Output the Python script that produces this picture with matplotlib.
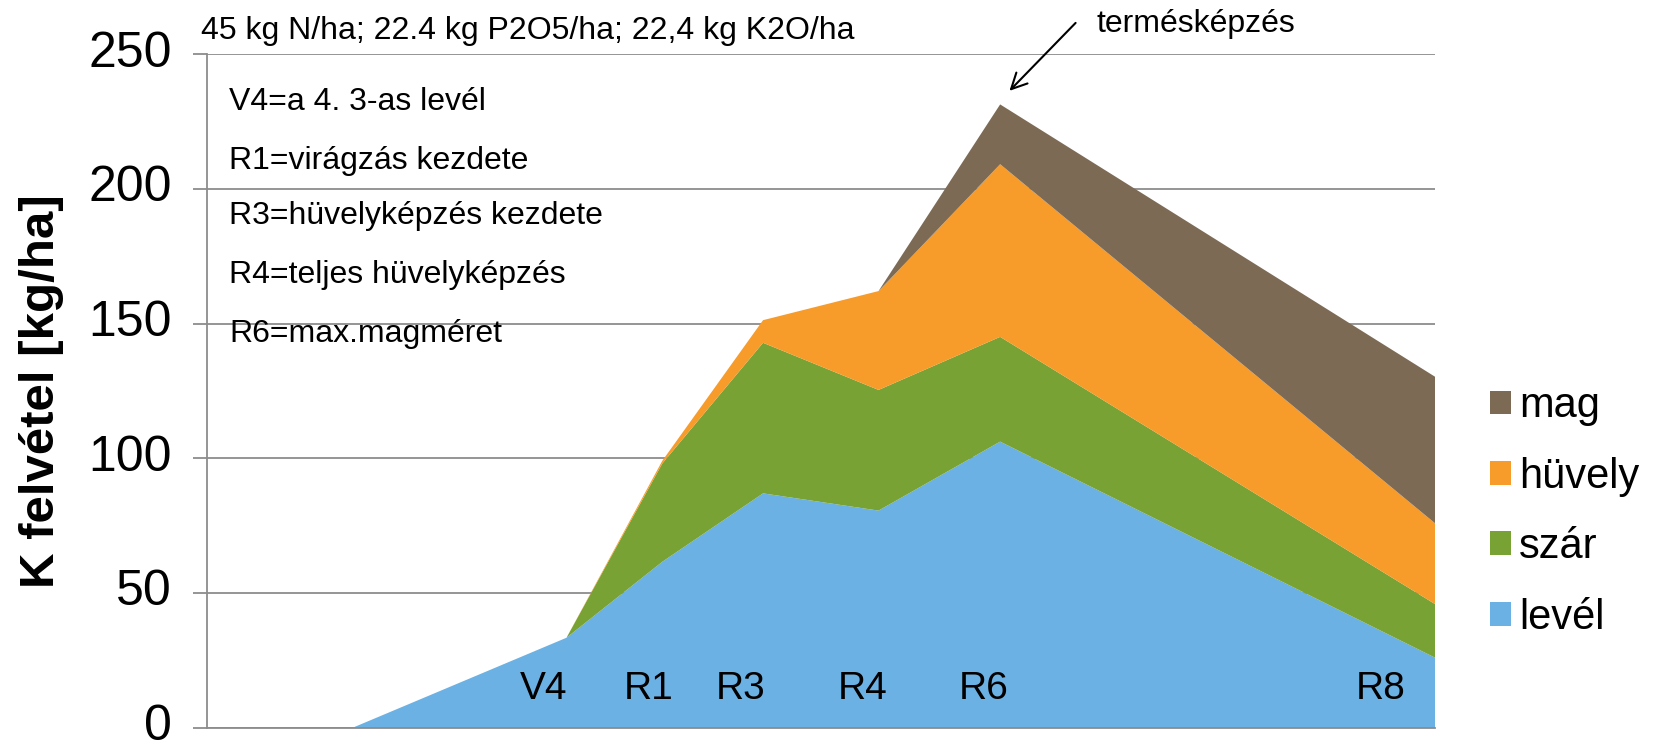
import matplotlib
matplotlib.use("Agg")
import matplotlib.pyplot as plt
import matplotlib.transforms as mtransforms

plt.rcParams['font.family'] = ['Liberation Sans', 'DejaVu Sans']

# growth stage positions (relative time units) and K uptake per plant part [kg/ha]
x = [11.9, 29.3, 37.1, 45.3, 54.7, 64.6, 100.0]
level = [0, 33.4, 61.6, 87.0, 80.6, 106.2, 26.0]
szar = [0, 0, 36.5, 55.9, 44.8, 38.9, 19.9]
huvely = [0, 0, 1.0, 8.4, 36.7, 64.1, 30.0]
mag = [0, 0, 0, 0, 0, 22.2, 54.4]

series_names = ['levél', 'szár', 'hüvely', 'mag']
colors = ['#6BB1E3', '#78A233', '#F79B2A', '#7C6A55']

stage_labels = ['V4', 'R1', 'R3', 'R4', 'R6', 'R8']
stage_x = [27.4, 36.0, 43.5, 53.4, 63.3, 95.6]

notes = ['V4=a 4. 3-as levél', 'R1=virágzás kezdete', 'R3=hüvelyképzés kezdete',
         'R4=teljes hüvelyképzés', 'R6=max.magméret']
notes_y = [229.3, 207.6, 187.0, 165.0, 143.3]

fig = plt.figure(figsize=(16.78, 7.43), dpi=100)
ax = fig.add_axes([0.1231, 0.0206, 0.7321, 0.9063])

ax.stackplot(x, level, szar, huvely, mag, colors=colors,
             labels=series_names, linewidth=0, zorder=2)

ax.set_xlim(0, 100)
ax.set_ylim(0, 250)
ax.set_yticks(range(0, 251, 50))
ax.set_xticks([])
ax.yaxis.grid(True, color='#8C8C8C', linewidth=1.3, zorder=0)
ax.set_axisbelow(True)
for s in ['top', 'right']:
    ax.spines[s].set_visible(False)
for s in ['left', 'bottom']:
    ax.spines[s].set_color('#8C8C8C')
    ax.spines[s].set_linewidth(1.3)
ax.tick_params(axis='y', length=10, width=1.3, color='#8C8C8C',
               labelsize=36, pad=15)
# labels sit a little above their gridline, like in the original
shift = mtransforms.ScaledTranslation(0, 4 / 72, fig.dpi_scale_trans)
for lab in ax.get_yticklabels():
    lab.set_transform(lab.get_transform() + shift)

ax.set_ylabel('K felvétel [kg/ha]', fontsize=35.5, fontweight='bold')
ax.yaxis.set_label_coords(-0.116, 0.5)

# stage labels inside the plot
for lab, sx in zip(stage_labels, stage_x):
    ax.text(sx, 10.7, lab, fontsize=28, ha='center', va='baseline', zorder=5)

# notes
ax.text(-0.47, 255.6, '45 kg N/ha; 22.4 kg P2O5/ha; 22,4 kg K2O/ha',
        fontsize=23, ha='left', va='baseline', clip_on=False)
for t, ty in zip(notes, notes_y):
    ax.text(1.85, ty, t, fontsize=23, ha='left', va='baseline', zorder=5)

ax.text(80.5, 258.3, 'termésképzés', fontsize=23, ha='center',
        va='baseline', clip_on=False)
ax.annotate('', xy=(65.2, 235.7), xytext=(70.9, 262.4),
            arrowprops=dict(arrowstyle='->', color='black', lw=1.5,
                            mutation_scale=28), annotation_clip=False)

handles, labels = ax.get_legend_handles_labels()
fig.legend(handles[::-1], labels[::-1], loc='center left',
           bbox_to_anchor=(1490 / 1678, 0.311), frameon=False, fontsize=30,
           handlelength=0.5, handleheight=0.5, handletextpad=0.19,
           labelspacing=0.73, borderpad=0, borderaxespad=0)

fig.savefig('out.png', dpi=100)
